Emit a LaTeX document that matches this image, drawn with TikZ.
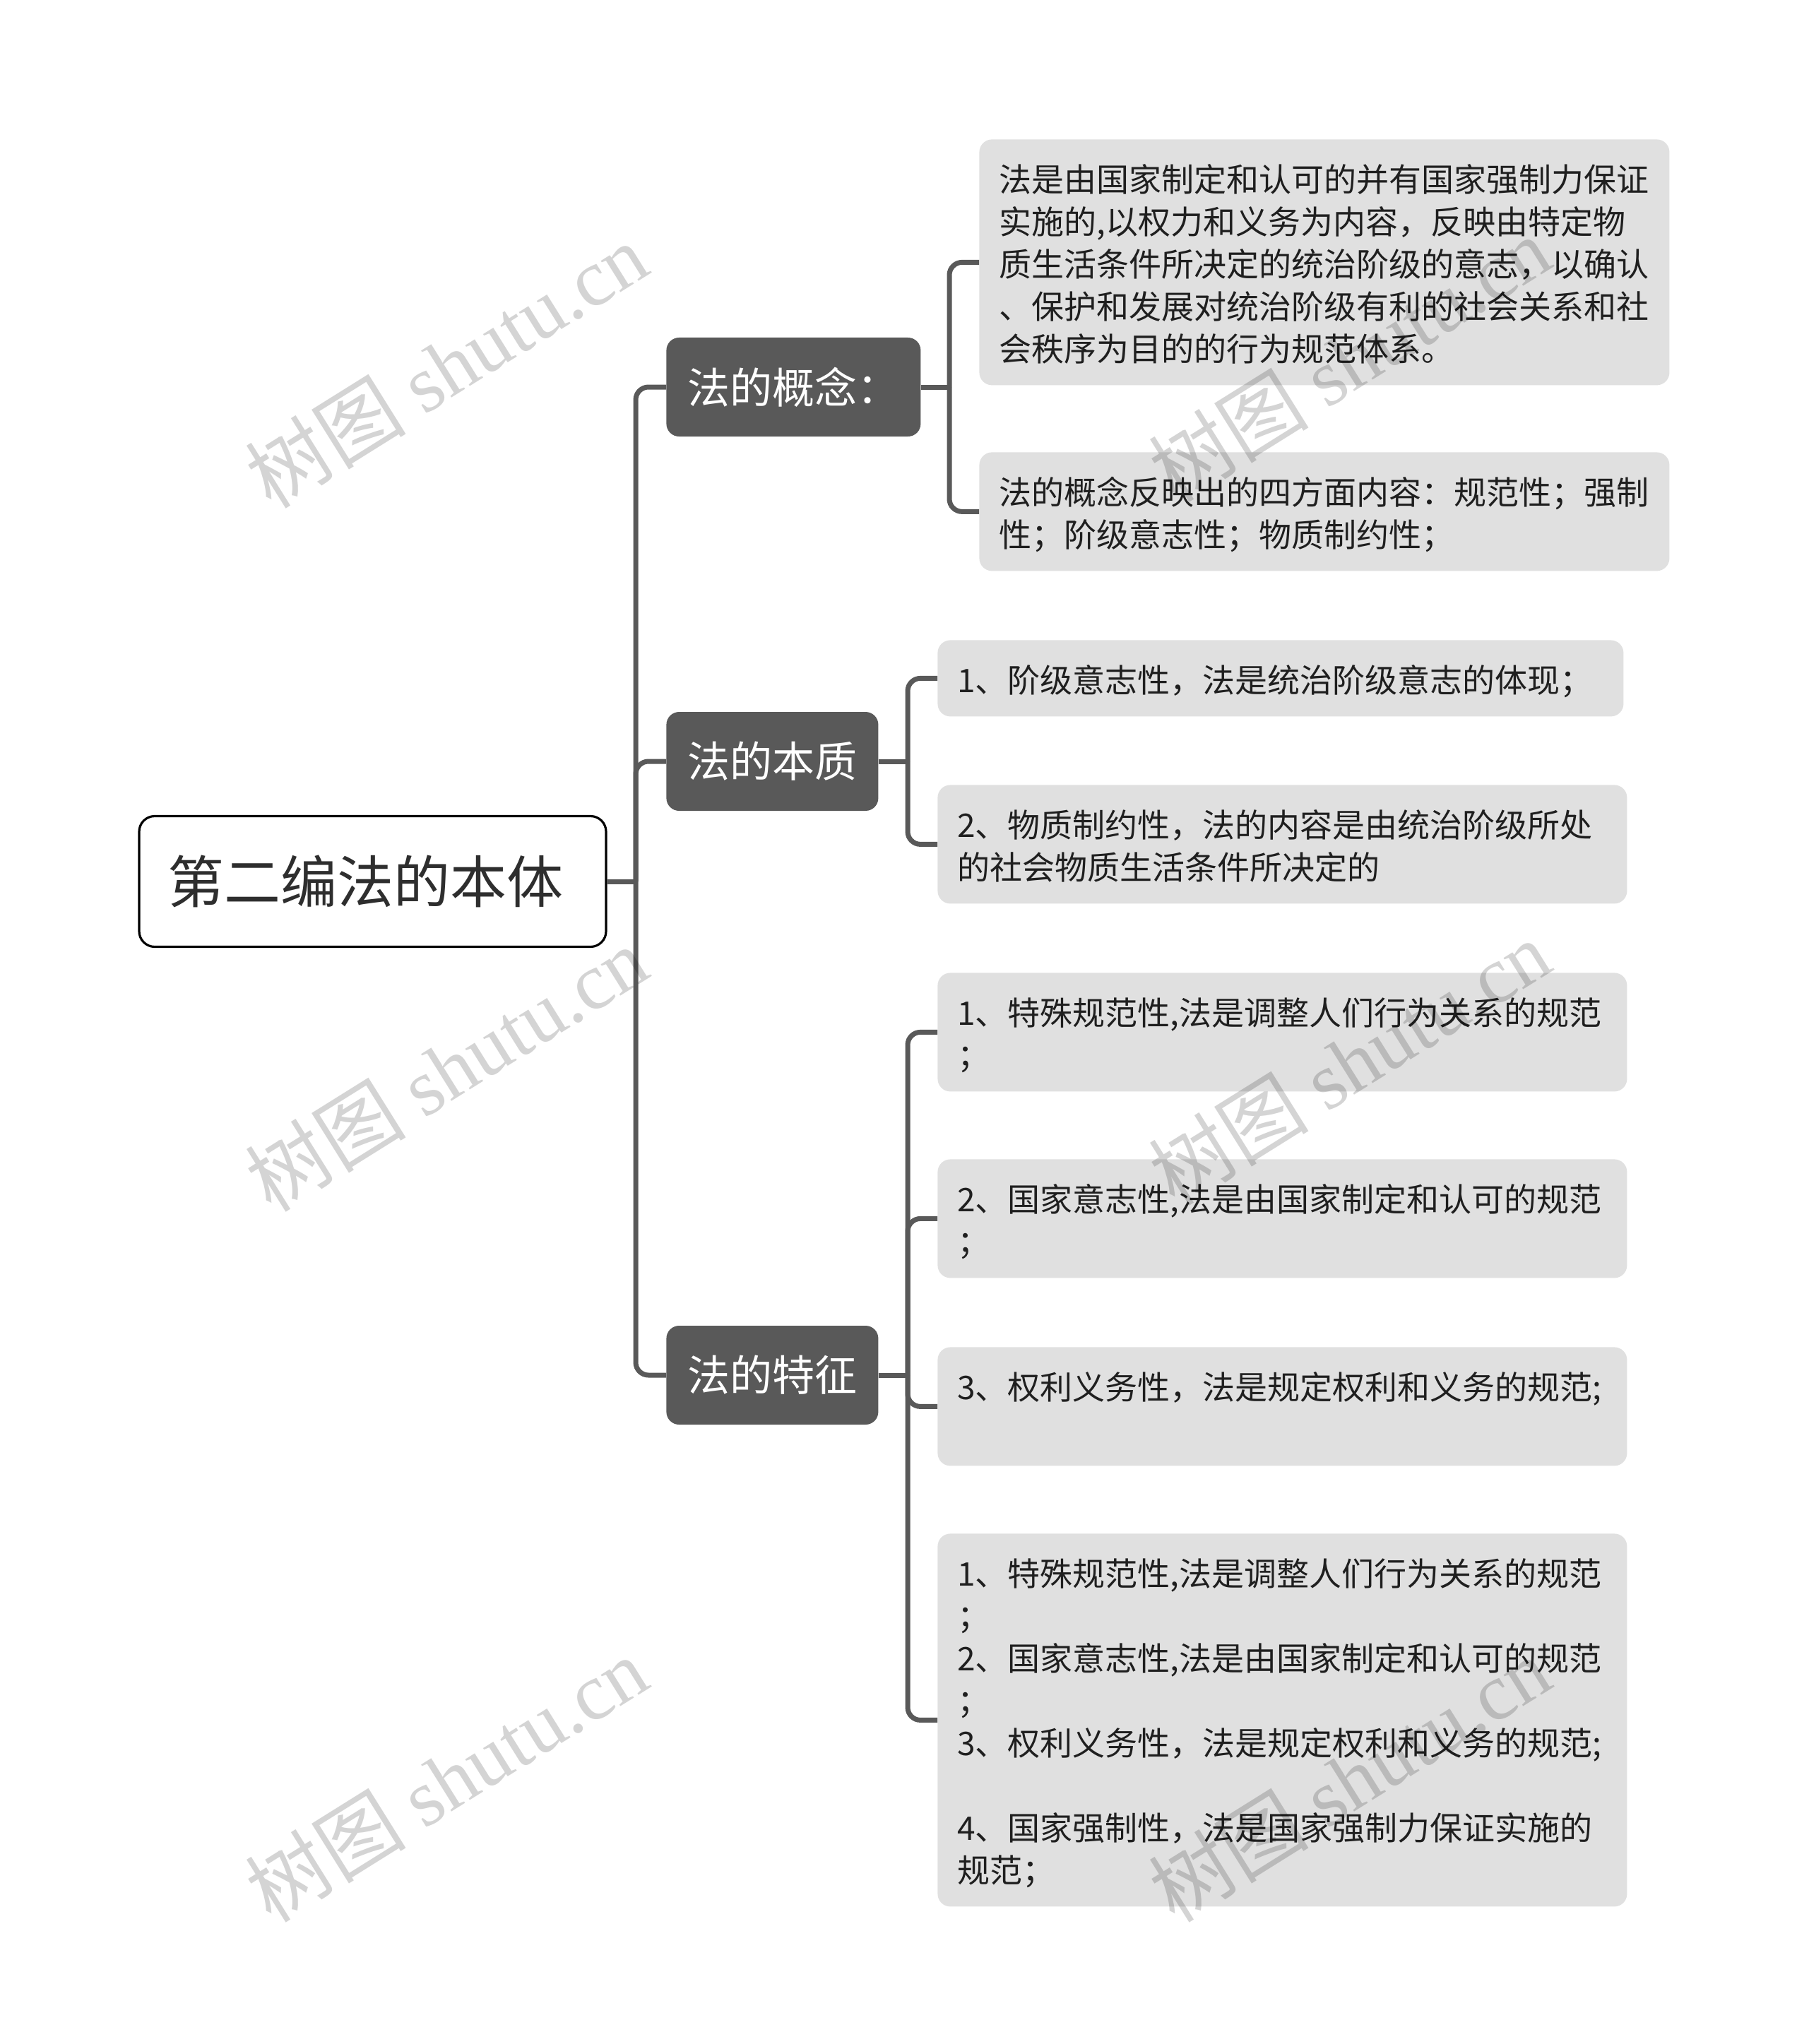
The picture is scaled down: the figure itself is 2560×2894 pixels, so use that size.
\documentclass[tikz,border=0pt]{standalone}
\usepackage{fontspec}
\setmainfont{Noto Sans CJK SC}
\newfontfamily\cjk{Noto Sans CJK SC}
\newfontfamily\wmfont{Liberation Serif}
\definecolor{darknode}{HTML}{595959}
\definecolor{boxgray}{HTML}{E0E0E0}
\definecolor{txtdark}{HTML}{1F1F1F}
\newcommand\lnstrut{\rule[-5pt]{0pt}{30pt}}
\tikzset{
  rootbox/.style={draw=black, line width=1.6pt, fill=white, rounded corners=11pt,
    minimum width=330.5pt, minimum height=92.5pt, text=black!82,
    font=\fontsize{40}{48}\selectfont, inner sep=0pt},
  lonebox/.style={fill=darknode, rounded corners=9pt, text=white, anchor=west,
    font=\fontsize{30}{36}\selectfont, inner xsep=15pt, inner ysep=0pt,
    minimum height=70pt},
  ltwobox/.style={fill=boxgray, rounded corners=9pt, text=txtdark, anchor=north west,
    align=left, font=\fontsize{23}{30}\selectfont,
    execute at begin node=\lnstrut, execute at end node=\lnstrut,
    inner xsep=14pt, inner ysep=12pt},
  conn/.style={draw=darknode, line width=3.5pt},
  rconn/.style={conn, rounded corners=9pt},
  wmark/.style={text=black, opacity=0.17, rotate=32, inner sep=0pt}
}
\begin{document}
\begin{tikzpicture}[x=0.5pt,y=-0.5pt]
\useasboundingbox (0,0) rectangle (2560,2894);

% root
\node[rootbox] (root) at (527.5,1248) {\hspace*{-10pt}第二编法的本体};

% level 1
\node[lonebox] (n1) at (943,548) {法的概念：};
\node[lonebox] (n2) at (943,1078) {法的本质};
\node[lonebox] (n3) at (943,1947) {法的特征};

% level 2
\node[ltwobox, text width=460.5pt] (a1) at (1386,197) {法是由国家制定和认可的并有国家强制力保证\\实施的,以权力和义务为内容，反映由特定物\\质生活条件所决定的统治阶级的意志，以确认\\、保护和发展对统治阶级有利的社会关系和社\\会秩序为目的的行为规范体系。};
\node[ltwobox, text width=460.5pt] (a2) at (1386,640) {法的概念反映出的四方面内容：规范性；强制\\性；阶级意志性；物质制约性；};

\node[ltwobox, text width=457.5pt] (b1) at (1327,906) {1、阶级意志性，法是统治阶级意志的体现；};
\node[ltwobox, text width=460pt] (b2) at (1327,1111) {2、物质制约性，法的内容是由统治阶级所处\\的社会物质生活条件所决定的};

\node[ltwobox, text width=460pt] (c1) at (1327,1377) {1、特殊规范性,法是调整人们行为关系的规范\\；};
\node[ltwobox, text width=460pt] (c2) at (1327,1641) {2、国家意志性,法是由国家制定和认可的规范\\；};
\node[ltwobox, text width=460pt] (c3) at (1327,1907) {3、权利义务性，法是规定权利和义务的规范;\\~};
\node[ltwobox, text width=460pt] (c4) at (1327,2171) {1、特殊规范性,法是调整人们行为关系的规范\\；\\2、国家意志性,法是由国家制定和认可的规范\\；\\3、权利义务性，法是规定权利和义务的规范;\\~\\4、国家强制性，法是国家强制力保证实施的\\规范；};

% connectors
\coordinate (sp) at (900,1248);
\draw[conn] (root.east) -- (sp);
\draw[rconn] (sp) |- (n1.west);
\draw[rconn] (sp) |- (n2.west);
\draw[rconn] (sp) |- (n3.west);

\coordinate (ba) at (1344,548);
\draw[conn] (n1.east) -- (ba);
\draw[rconn] (ba) |- (a1.west);
\draw[rconn] (ba) |- (a2.west);

\coordinate (bb) at (1285,1078);
\draw[conn] (n2.east) -- (bb);
\draw[rconn] (bb) |- (b1.west);
\draw[rconn] (bb) |- (b2.west);

\coordinate (bc) at (1285,1947);
\draw[conn] (n3.east) -- (bc);
\draw[rconn] (bc) |- (c1.west);
\draw[rconn] (bc) |- (c2.west);
\draw[rconn] (bc) |- (c3.west);
\draw[rconn] (bc) |- (c4.west);

% watermarks
\node[wmark] (w1) at (632,517) {\fontsize{57}{60}\selectfont\cjk 树图 \wmfont shutu.cn};
\node[wmark] (w2) at (632,1513) {\fontsize{57}{60}\selectfont\cjk 树图 \wmfont shutu.cn};
\node[wmark] (w3) at (632,2519) {\fontsize{57}{60}\selectfont\cjk 树图 \wmfont shutu.cn};
\node[wmark] (w4) at (1910,508) {\fontsize{57}{60}\selectfont\cjk 树图 \wmfont shutu.cn};
\node[wmark] (w5) at (1910,1504) {\fontsize{57}{60}\selectfont\cjk 树图 \wmfont shutu.cn};
\node[wmark] (w6) at (1910,2519) {\fontsize{57}{60}\selectfont\cjk 树图 \wmfont shutu.cn};
\end{tikzpicture}
\end{document}
